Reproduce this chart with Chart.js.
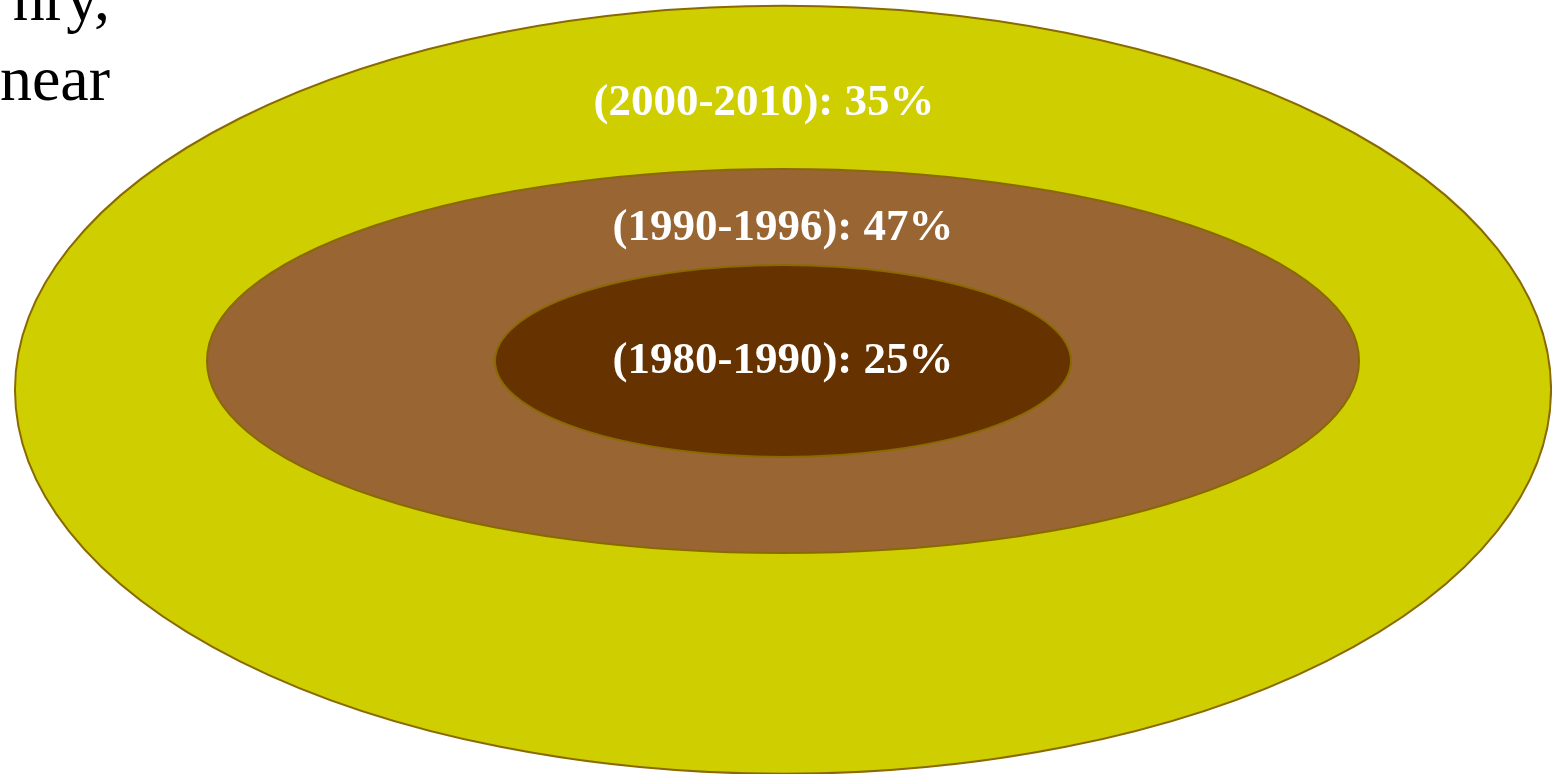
<!DOCTYPE html>
<html>
<head>
<meta charset="utf-8">
<script src="https://cdn.jsdelivr.net/npm/chart.js@4"></script>
<style>
  html, body { margin: 0; padding: 0; background: #fff; overflow: hidden; }
  #wrap { width: 1552px; height: 774px; }
</style>
</head>
<body>
<div id="wrap"><canvas id="myChart" width="1552" height="774"></canvas></div>
<script>
// periods and their shares, outermost ring first
const periods = ["(2000-2010)", "(1990-1996)", "(1980-1990)"];
const shares = [35, 47, 25];

// ellipse geometry in chart units (centre + half axes)
const centerX = [0, 0, 0];
const centerY = [-0.3, 0, 0];
const radiusX = [4, 3, 1.5];
const radiusY = [4, 2, 1];
// where the label sits, as a fraction of radiusY above the centre
const labelLift = [0.745, 0.69, 0];

const fills = ["#cece00", "#996633", "#663300"];
const edge = "#8a6a00";

// leftover text from the slide, cut at the left edge
const sideText = ["nry,", "near"];

const chart1 = document.getElementById("myChart");

const ellipsePlugin = {
  id: "ellipses",
  afterDatasetsDraw(chart) {
    const ctx = chart.ctx;
    const xs = chart.scales.x;
    const ys = chart.scales.y;
    const pts = chart.data.datasets[0].data;

    pts.forEach((p, i) => {
      const cx = xs.getPixelForValue(p.x);
      const cy = ys.getPixelForValue(p.y);
      const rx = Math.abs(xs.getPixelForValue(p.x + p.rx) - cx);
      const ry = Math.abs(ys.getPixelForValue(p.y + p.ry) - cy);
      ctx.save();
      ctx.beginPath();
      ctx.ellipse(cx, cy, rx, ry, 0, 0, Math.PI * 2);
      ctx.fillStyle = fills[i];
      ctx.fill();
      ctx.lineWidth = 2;
      ctx.strokeStyle = edge;
      ctx.stroke();
      ctx.restore();
    });

    // labels on top of all rings
    pts.forEach((p, i) => {
      const lx = xs.getPixelForValue(p.x) + (i == 0 ? -19 : 0);
      const ly = ys.getPixelForValue(p.y + p.ry * labelLift[i]);
      ctx.save();
      ctx.font = "bold 45px 'Liberation Serif', 'DejaVu Serif', serif";
      ctx.fillStyle = "#ffffff";
      ctx.textAlign = "center";
      ctx.textBaseline = "middle";
      ctx.fillText(periods[i] + ": " + shares[i] + "%", lx, ly);
      ctx.restore();
    });

    ctx.save();
    ctx.font = "64px 'Liberation Serif', 'DejaVu Serif', serif";
    ctx.fillStyle = "#000000";
    ctx.textAlign = "right";
    ctx.textBaseline = "alphabetic";
    ctx.fillText(sideText[0], 110, 20);
    ctx.fillText(sideText[1], 110, 100);
    ctx.restore();
  },
};

new Chart(chart1, {
  type: "scatter",
  data: {
    datasets: [
      {
        label: "Share",
        data: periods.map((name, i) => ({
          x: centerX[i],
          y: centerY[i],
          rx: radiusX[i],
          ry: radiusY[i],
        })),
        pointRadius: 0,
        pointHoverRadius: 0,
      },
    ],
  },
  options: {
    responsive: false,
    animation: false,
    layout: { padding: 0 },
    plugins: {
      legend: { display: false },
      tooltip: { enabled: false },
    },
    scales: {
      x: { type: "linear", display: false, min: -4.078, max: 4.005 },
      y: { type: "linear", display: false, min: -4.302, max: 3.76 },
    },
  },
  plugins: [ellipsePlugin],
});
</script>
</body>
</html>
